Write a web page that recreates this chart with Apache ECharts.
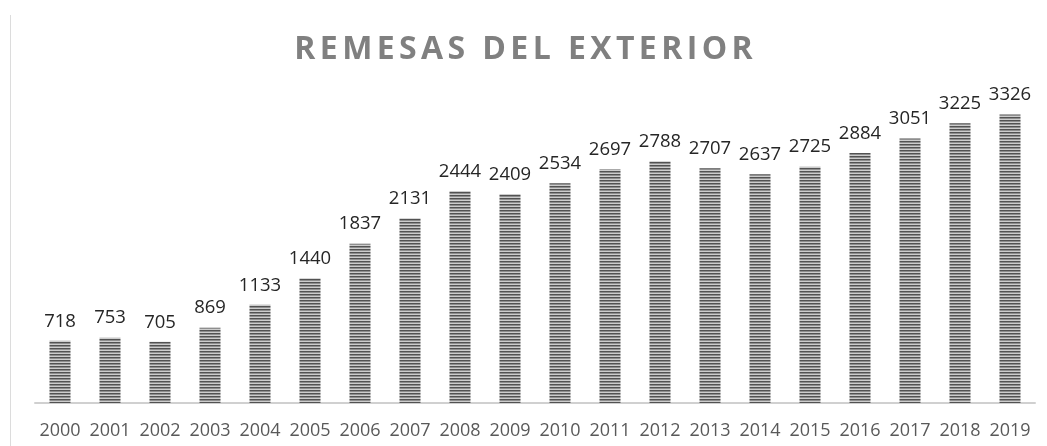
<!DOCTYPE html>
<html>
<head>
<meta charset="utf-8">
<title>Remesas del exterior</title>
<script src="https://cdn.jsdelivr.net/npm/echarts@6/dist/echarts.min.js"></script>
<style>
  html, body { margin: 0; padding: 0; background: #ffffff; }
  #chart { width: 1047px; height: 446px; }
</style>
</head>
<body>
<div id="chart"></div>
<script>
// Remittances received per year
const TITLE = 'REMESAS DEL EXTERIOR';
const years = ['2000', '2001', '2002', '2003', '2004', '2005', '2006', '2007', '2008', '2009',
               '2010', '2011', '2012', '2013', '2014', '2015', '2016', '2017', '2018', '2019'];
const remesas = [718, 753, 705, 869, 1133, 1440, 1837, 2131, 2444, 2409,
                 2534, 2697, 2788, 2707, 2637, 2725, 2884, 3051, 3225, 3326];

// Horizontal pinstripe fill for the bars
function stripePattern() {
  const c = document.createElement('canvas');
  c.width = 4; c.height = 3;
  const g = c.getContext('2d');
  const rows = ['#525252', '#8e8e8e', '#cccccc'];
  rows.forEach((col, i) => { g.fillStyle = col; g.fillRect(0, i, 4, 1); });
  return c;
}

// Title drawn letter by letter with a little tracking between glyphs
const titleRich = TITLE.split('').map(ch => ch === ' ' ? '{sp| }' : '{t|' + ch + '}').join('');

const chart = echarts.init(document.getElementById('chart'), null, { renderer: 'canvas' });
chart.setOption({
  backgroundColor: '#ffffff',
  animation: false,
  title: {
    text: titleRich,
    left: 'center',
    top: 29,
    textStyle: {
      rich: {
        t: { fontFamily: 'Open Sans', fontWeight: 'bold', fontSize: 32, color: '#808080', padding: [0, 2.2] },
        sp: { fontFamily: 'Open Sans', fontWeight: 'bold', fontSize: 32, color: '#808080', padding: [0, 2.2] }
      }
    }
  },
  graphic: [{
    type: 'line',
    shape: { x1: 10.5, y1: 15, x2: 10.5, y2: 446 },
    style: { stroke: '#dcdcdc', lineWidth: 1 },
    silent: true
  }],
  grid: { left: 35, right: 12, top: 99.5, bottom: 43, containLabel: false },
  xAxis: {
    type: 'category',
    data: years,
    axisLine: { show: true, lineStyle: { color: '#d0d0d0', width: 2 } },
    axisTick: { show: false },
    axisLabel: { color: '#595959', fontFamily: 'Open Sans', fontSize: 18, margin: 19, interval: 0 }
  },
  yAxis: {
    type: 'value',
    min: 0,
    max: 3500,
    show: false,
    splitLine: { show: false }
  },
  series: [{
    type: 'bar',
    data: remesas,
    barWidth: 21,
    itemStyle: { color: { image: stripePattern(), repeat: 'repeat' } },
    label: {
      show: true,
      position: 'top',
      distance: 10,
      color: '#262626',
      fontFamily: 'Open Sans',
      fontSize: 18.5
    }
  }]
});
</script>
</body>
</html>
